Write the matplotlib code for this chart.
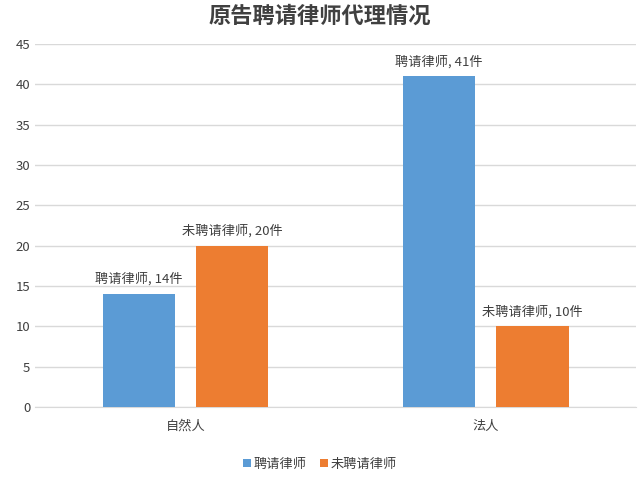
import matplotlib
matplotlib.use("Agg")
import matplotlib.pyplot as plt
import numpy as np

plt.rcParams['font.family'] = ['Noto Sans CJK SC', 'DejaVu Sans']

categories = ['自然人', '法人']
hired = [14, 41]
not_hired = [20, 10]
series_names = ['聘请律师', '未聘请律师']
yticks = [0, 5, 10, 15, 20, 25, 30, 35, 40, 45]

fig = plt.figure(figsize=(6.4, 4.78), dpi=100)
ax = fig.add_axes((0.0547, 0.1485, 0.9393, 0.7595))

x = np.arange(len(categories))
w = 0.24
off = 0.155
b1 = ax.bar(x - off, hired, w, color='#5B9BD5', label=series_names[0], zorder=3)
b2 = ax.bar(x + off, not_hired, w, color='#ED7D31', label=series_names[1], zorder=3)

for rect, v in zip(b1, hired):
    ax.text(rect.get_x() + rect.get_width() / 2, v + 1.0, f'{series_names[0]}, {v}件',
            ha='center', va='bottom', fontsize=9.5, color='#404040')
for rect, v in zip(b2, not_hired):
    ax.text(rect.get_x() + rect.get_width() / 2, v + 1.0, f'{series_names[1]}, {v}件',
            ha='center', va='bottom', fontsize=9.5, color='#404040')

ax.set_xlim(-0.5, 1.5)
ax.set_ylim(0, 45)
ax.set_yticks(yticks)
ax.set_xticks(x)
ax.set_xticklabels(categories)
ax.grid(axis='y', color='#D9D9D9', linewidth=1, zorder=0)
for s in ['top', 'right', 'left']:
    ax.spines[s].set_visible(False)
ax.spines['bottom'].set_color('#D9D9D9')
ax.tick_params(axis='both', length=0, labelsize=9.5, colors='#404040')
ax.tick_params(axis='x', pad=9)

fig.suptitle('原告聘请律师代理情况', y=0.99, fontsize=16, fontweight='bold', color='#404040')
fig.legend(handles=[b1, b2], loc='lower center', bbox_to_anchor=(0.5, -0.01), ncol=2,
           frameon=False, fontsize=9.5, handlelength=0.6, handleheight=0.6,
           handletextpad=0.2, columnspacing=1.0, labelcolor='#404040')

fig.savefig('out.png', dpi=100)
